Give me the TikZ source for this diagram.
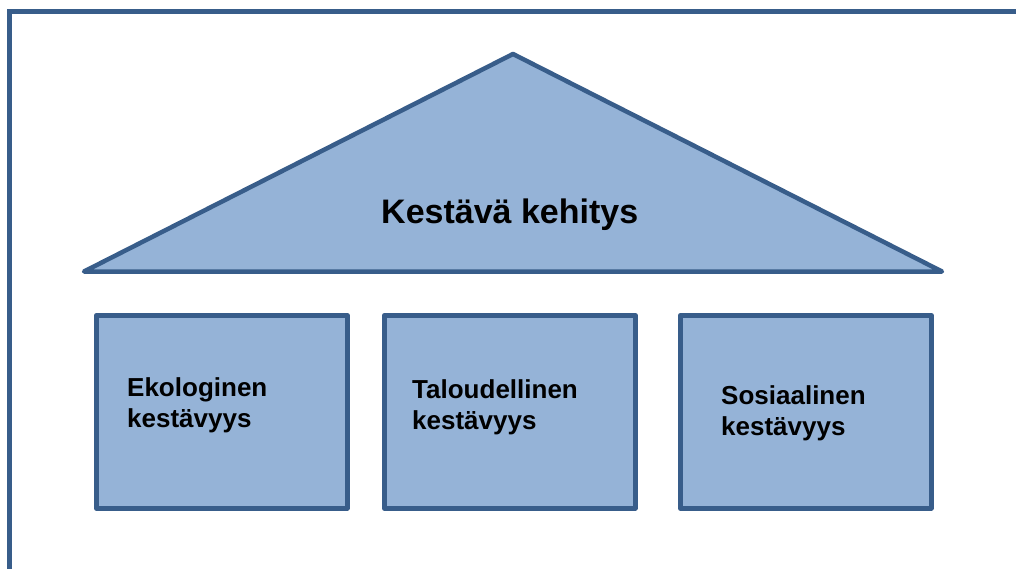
\documentclass[tikz,border=0pt]{standalone}
\usepackage{fontspec}
\setmainfont{Liberation Sans}
\definecolor{fillblue}{HTML}{95B3D7}
\definecolor{lineblue}{HTML}{385D8A}
\begin{document}
\begin{tikzpicture}[x=1pt,y=-1pt,
  shapeline/.style={draw=lineblue,line width=4.5pt,fill=fillblue,line join=round},
  framestroke/.style={draw=lineblue,line width=4.5pt},
  pillar/.style={shapeline,rectangle,minimum width=251pt,minimum height=193pt,inner sep=0pt,anchor=north west},
  boxlabel/.style={font=\bfseries\fontsize{26}{31.5}\selectfont,align=left,anchor=base west,inner sep=0pt,text=black},
  titlelabel/.style={font=\bfseries\fontsize{34}{40}\selectfont,anchor=base west,inner sep=0pt,text=black}]
\useasboundingbox (0,0) rectangle (1016,569);
\fill[white] (0,0) rectangle (1016,569);
% frame
\coordinate (ftl) at (9.5,11.5);
\coordinate (ftr) at (1016,11.5);
\coordinate (fbl) at (9.5,569);
\draw[framestroke] (ftr) -- (ftl) -- (fbl);
% roof
\coordinate (rl) at (84,271.5);
\coordinate (ra) at (513,54);
\coordinate (rr) at (942,271.5);
\draw[shapeline] (rl) -- (ra) -- (rr) -- cycle;
\node[titlelabel] (title) at (381,223) {Kestävä kehitys};
% pillars
\node[pillar] (p1) at (94,313) {};
\node[pillar] (p2) at (382,313) {};
\node[pillar] (p3) at (678,313) {};
\node[boxlabel] (t1) at (127,427.5) {Ekologinen\\kestävyys};
\node[boxlabel] (t2) at (412,429.5) {Taloudellinen\\kestävyys};
\node[boxlabel] (t3) at (721,435.5) {Sosiaalinen\\kestävyys};
\end{tikzpicture}
\end{document}
